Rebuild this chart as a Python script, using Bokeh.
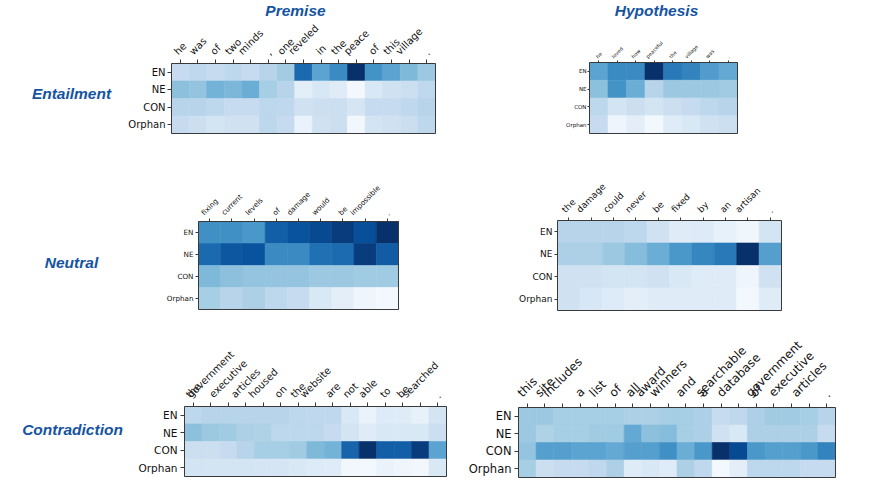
import math
from bokeh.plotting import figure
from bokeh.models import (ColumnDataSource, LinearColorMapper, FixedTicker, LinearAxis,
                          Range1d, CustomJSTickFormatter)
from bokeh.layouts import column, row
from bokeh.palettes import Blues256
from bokeh.core.properties import value
from bokeh.embed import file_html
from bokeh.resources import INLINE

ROWS = ["EN", "NE", "CON", "Orphan"]

# ---- Entailment ----
ent_premise_words = ["he", "was", "of", "two", "minds", ",", "one", "reveled", "in", "the",
                     "peace", "of", "this", "village", "."]
ent_premise_EN = [0.25, 0.27, 0.25, 0.28, 0.25, 0.30, 0.36, 0.78, 0.55, 0.65, 1.00, 0.62, 0.55, 0.45, 0.38]
ent_premise_NE = [0.42, 0.40, 0.48, 0.46, 0.50, 0.35, 0.30, 0.10, 0.16, 0.12, 0.02, 0.15, 0.20, 0.22, 0.27]
ent_premise_CON = [0.30, 0.30, 0.28, 0.25, 0.25, 0.28, 0.27, 0.20, 0.22, 0.22, 0.17, 0.25, 0.25, 0.27, 0.30]
ent_premise_OR = [0.25, 0.22, 0.18, 0.20, 0.20, 0.28, 0.25, 0.07, 0.20, 0.22, 0.03, 0.18, 0.20, 0.23, 0.28]

ent_hyp_words = ["he", "loved", "how", "peaceful", "the", "village", "was", "."]
ent_hyp_EN = [0.55, 0.65, 0.65, 1.00, 0.72, 0.68, 0.58, 0.52]
ent_hyp_NE = [0.42, 0.62, 0.50, 0.30, 0.38, 0.38, 0.38, 0.37]
ent_hyp_CON = [0.28, 0.18, 0.22, 0.18, 0.22, 0.25, 0.28, 0.30]
ent_hyp_OR = [0.25, 0.05, 0.10, 0.02, 0.12, 0.15, 0.20, 0.22]

# ---- Neutral ----
neu_premise_words = ["fixing", "current", "levels", "of", "damage", "would", "be", "impossible", "."]
neu_premise_EN = [0.63, 0.63, 0.60, 0.82, 0.87, 0.90, 0.95, 0.88, 1.00]
neu_premise_NE = [0.78, 0.85, 0.87, 0.65, 0.65, 0.75, 0.77, 0.95, 0.83]
neu_premise_CON = [0.45, 0.42, 0.40, 0.40, 0.40, 0.38, 0.38, 0.37, 0.37]
neu_premise_OR = [0.35, 0.30, 0.33, 0.28, 0.25, 0.15, 0.10, 0.05, 0.02]

neu_hyp_words = ["the", "damage", "could", "never", "be", "fixed", "by", "an", "artisan", "."]
neu_hyp_EN = [0.30, 0.30, 0.30, 0.28, 0.20, 0.12, 0.13, 0.08, 0.04, 0.18]
neu_hyp_NE = [0.33, 0.33, 0.38, 0.43, 0.50, 0.60, 0.67, 0.72, 1.00, 0.57]
neu_hyp_CON = [0.20, 0.20, 0.18, 0.18, 0.20, 0.15, 0.12, 0.12, 0.05, 0.20]
neu_hyp_OR = [0.20, 0.16, 0.13, 0.10, 0.12, 0.12, 0.12, 0.12, 0.02, 0.12]

# ---- Contradiction ----
con_premise_words = ["the", "government", "executive", "articles", "housed", "on", "the", "website",
                     "are", "not", "able", "to", "be", "searched", "."]
con_premise_EN = [0.28, 0.30, 0.30, 0.30, 0.30, 0.30, 0.28, 0.27, 0.27, 0.15, 0.07, 0.13, 0.12, 0.08, 0.18]
con_premise_NE = [0.42, 0.38, 0.37, 0.33, 0.32, 0.28, 0.28, 0.28, 0.25, 0.18, 0.12, 0.15, 0.15, 0.15, 0.22]
con_premise_CON = [0.22, 0.22, 0.25, 0.30, 0.35, 0.35, 0.37, 0.45, 0.48, 0.80, 1.00, 0.82, 0.82, 0.95, 0.55]
con_premise_OR = [0.18, 0.18, 0.18, 0.18, 0.17, 0.17, 0.15, 0.13, 0.12, 0.03, 0.02, 0.07, 0.05, 0.03, 0.15]

con_hyp_words = ["this", "site", "includes", "a", "list", "of", "all", "award", "winners", "and", "a",
                 "searchable", "database", "of", "government", "executive", "articles", "."]
con_hyp_EN = [0.38, 0.38, 0.35, 0.35, 0.35, 0.35, 0.33, 0.33, 0.35, 0.35, 0.33, 0.25, 0.27, 0.33, 0.37, 0.37, 0.35, 0.30]
con_hyp_NE = [0.38, 0.32, 0.35, 0.35, 0.37, 0.37, 0.52, 0.42, 0.43, 0.35, 0.33, 0.20, 0.15, 0.33, 0.33, 0.33, 0.33, 0.25]
con_hyp_CON = [0.40, 0.57, 0.57, 0.55, 0.55, 0.52, 0.57, 0.57, 0.63, 0.50, 0.60, 1.00, 0.90, 0.60, 0.57, 0.57, 0.60, 0.68]
con_hyp_OR = [0.35, 0.22, 0.25, 0.25, 0.27, 0.33, 0.12, 0.15, 0.12, 0.33, 0.27, 0.02, 0.10, 0.28, 0.28, 0.28, 0.25, 0.25]

TITLE_COLOR = "#1553a3"
EDGE = "#3a3a3a"
PALETTE = list(Blues256)[::-1]
mapper = LinearColorMapper(palette=PALETTE, low=0.0, high=1.0)

# approximate DejaVu Sans advance widths (em)
CW = {'a': .613, 'b': .635, 'c': .550, 'd': .635, 'e': .615, 'f': .352, 'g': .635, 'h': .634,
      'i': .278, 'j': .278, 'k': .579, 'l': .278, 'm': .974, 'n': .634, 'o': .612, 'p': .635,
      'q': .635, 'r': .411, 's': .521, 't': .392, 'u': .634, 'v': .592, 'w': .818, 'x': .592,
      'y': .592, 'z': .525, '.': .318, ',': .318}


def text_w(word, fs):
    return sum(CW.get(c, 0.6) for c in word) * fs


def heatmap(words, rows_vals, fs_w, fs_r, W, H, FL, FT, FW, FH):
    """Figure whose frame fills the whole canvas; heatmap frame at (FL, FT, FW, FH) px."""
    n = len(words)
    nr = len(ROWS)
    cw = FW / n
    rh = FH / nr
    FB = H - FT - FH
    p = figure(width=W, height=H, min_border=0,
               x_range=Range1d(-0.5 - FL / cw, -0.5 + (W - FL) / cw),
               y_range=Range1d(-0.5 - FB / rh, nr - 0.5 + FT / rh),
               x_axis_location=None, y_axis_location=None,
               toolbar_location=None, tools="", output_backend="svg", title=None)
    p.xgrid.visible = False
    p.ygrid.visible = False
    p.outline_line_color = None
    p.background_fill_color = "white"
    p.border_fill_color = "white"

    xs, ys, vs = [], [], []
    for r, vals in enumerate(rows_vals):
        for c, v in enumerate(vals):
            xs.append(c)
            ys.append(nr - 1 - r)
            vs.append(v)
    src = ColumnDataSource(dict(x=xs, y=ys, v=vs))
    p.rect(x="x", y="y", width=1, height=1, source=src,
           fill_color={"field": "v", "transform": mapper},
           line_color={"field": "v", "transform": mapper}, line_width=0.6)
    # frame border of the heatmap
    p.rect(x=[(n - 1) / 2], y=[(nr - 1) / 2], width=n, height=nr,
           fill_color=None, line_color=EDGE, line_width=1)

    # top axis: ticks only
    xa = LinearAxis(fixed_location=nr - 0.5)
    xa.ticker = FixedTicker(ticks=list(range(n)))
    xa.formatter = CustomJSTickFormatter(code="return ''")
    xa.major_tick_out = max(2, round(0.35 * fs_w))
    xa.major_tick_in = 0
    xa.minor_tick_out = 0
    xa.axis_line_color = None
    xa.major_tick_line_color = EDGE
    xa.major_label_text_font_size = "1px"
    p.add_layout(xa, "above")

    # left axis: row labels
    ya = LinearAxis(fixed_location=-0.5)
    ya.ticker = FixedTicker(ticks=list(range(nr)))
    ya.major_label_overrides = {nr - 1 - i: lab for i, lab in enumerate(ROWS)}
    ya.major_tick_out = max(2, round(0.35 * fs_r))
    ya.major_tick_in = 0
    ya.minor_tick_out = 0
    ya.axis_line_color = None
    ya.major_tick_line_color = EDGE
    ya.major_label_standoff = max(1, round(0.25 * fs_r))
    ya.major_label_text_font = "DejaVu Sans"
    ya.major_label_text_font_size = f"{fs_r}px"
    ya.major_label_text_color = "#111111"
    p.add_layout(ya, "left")

    # rotated word labels, centred over their column like matplotlib's ha='center'
    pad = 0.7 * fs_w
    dys = [-(pad + (text_w(w, fs_w) + fs_w) * 0.3536) for w in words]
    lsrc = ColumnDataSource(dict(x=list(range(n)), y=[nr - 0.5] * n, t=words, dy=dys))
    p.text(x="x", y="y", text="t", source=lsrc, angle=math.pi / 4, y_offset="dy",
           text_align="center", text_baseline="middle",
           text_font=value("DejaVu Sans"), text_font_size=value(f"{fs_w}px"),
           text_color="#111111")
    return p


def add_title(p, text, x, y, dx, dy):
    p.text(x=[x], y=[y], text=[text], x_offset=dx, y_offset=dy,
           text_align="center", text_baseline="middle",
           text_font=value("Liberation Sans"), text_font_style="bold italic",
           text_font_size=value("15.5px"), text_color=TITLE_COLOR)


WL, WR = 455, 417
H1, H2, H3 = 150, 175, 154

f1 = heatmap(ent_premise_words, [ent_premise_EN, ent_premise_NE, ent_premise_CON, ent_premise_OR],
             10, 10, WL, H1, 171, 63, 264, 70)
f2 = heatmap(ent_hyp_words, [ent_hyp_EN, ent_hyp_NE, ent_hyp_CON, ent_hyp_OR],
             5, 5.5, WR, H1, 134, 62, 148, 71)
f3 = heatmap(neu_premise_words, [neu_premise_EN, neu_premise_NE, neu_premise_CON, neu_premise_OR],
             7.2, 7.2, WL, H2, 198, 71, 200, 88)
f4 = heatmap(neu_hyp_words, [neu_hyp_EN, neu_hyp_NE, neu_hyp_CON, neu_hyp_OR],
             9, 9, WR, H2, 102, 70, 224, 90)
f5 = heatmap(con_premise_words, [con_premise_EN, con_premise_NE, con_premise_CON, con_premise_OR],
             10, 10.5, WL, H3, 184, 81, 262, 70)
f6 = heatmap(con_hyp_words, [con_hyp_EN, con_hyp_NE, con_hyp_CON, con_hyp_OR],
             12, 11.5, WR, H3, 63, 82, 317, 70)

add_title(f1, "Premise", (len(ent_premise_words) - 1) / 2, 3.5, -8, -53)
add_title(f2, "Hypothesis", (len(ent_hyp_words) - 1) / 2, 3.5, -7, -52)
add_title(f1, "Entailment", -0.5, 1.5, -100, -5)
add_title(f3, "Neutral", -0.5, 1.5, -127, -3)
add_title(f5, "Contradiction", -0.5, 1.5, -112, -12)

layout = column(row(f1, f2), row(f3, f4), row(f5, f6))
open("out.html", "w").write(file_html(layout, INLINE))
